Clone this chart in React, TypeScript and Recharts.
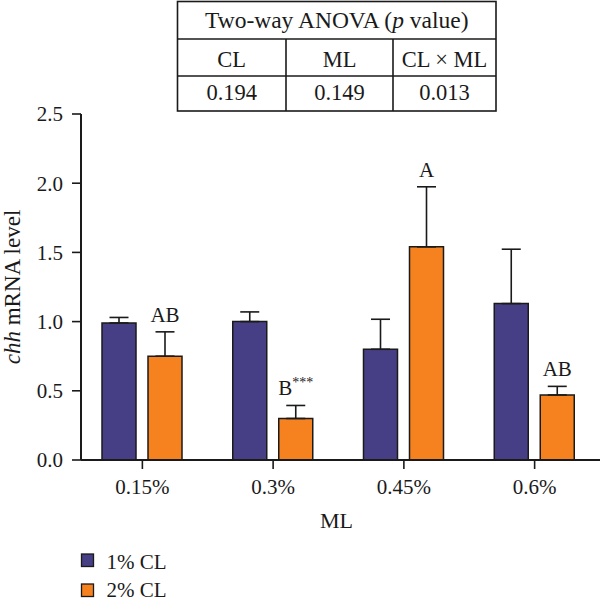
import React from "react";
import { BarChart, Bar, XAxis, YAxis, ErrorBar, LabelList, Label } from "recharts";

if (typeof document !== "undefined") {
  document.body.style.margin = "0";
}

const categories = ["0.15%", "0.3%", "0.45%", "0.6%"];
const cl1Mean = [0.99, 1.0, 0.8, 1.13];
const cl1Err = [0.04, 0.07, 0.217, 0.393];
const cl2Mean = [0.75, 0.3, 1.54, 0.47];
const cl2Err = [0.176, 0.094, 0.434, 0.062];
const cl2Letters = ["AB", "B", "A", "AB"];
const cl2Stars = ["", "***", "", ""];
const seriesNames = ["1% CL", "2% CL"];
const seriesColors = ["#473f85", "#f5821f"];
const yTicks = [0, 0.5, 1, 1.5, 2, 2.5];
const anovaHeaders = ["CL", "ML", "CL × ML"];
const anovaValues = ["0.194", "0.149", "0.013"];

const FONT = "'Liberation Serif', 'Times New Roman', serif";
const INK = "#1a1a1a";

const data = categories.map((ml, i) => ({
  ml,
  m1: cl1Mean[i],
  e1: [0, cl1Err[i]],
  m2: cl2Mean[i],
  e2: [0, cl2Err[i]],
  letter: cl2Letters[i],
}));

const LetterLabel = (props: any) => {
  const { x, y, width, height, index, value } = props;
  const mean = cl2Mean[index];
  const err = cl2Err[index];
  const bottom = y + height;
  const unit = height / mean;
  const capY = bottom - (mean + err) * unit;
  const cx = x + width / 2;
  const stars = cl2Stars[index];
  return (
    <text x={cx} y={capY - 10} textAnchor="middle" fontFamily={FONT} fontSize={21} fill={INK}>
      <tspan>{value}</tspan>
      {stars ? (
        <tspan dy={-8} fontSize={14}>
          {stars}
        </tspan>
      ) : null}
    </text>
  );
};

const YLabel = (props: any) => {
  const vb = props.viewBox || { x: 0, y: 114, width: 81, height: 346 };
  const cx = 20;
  const cy = vb.y + vb.height / 2;
  return (
    <text
      x={cx}
      y={cy}
      textAnchor="middle"
      transform={`rotate(-90, ${cx}, ${cy})`}
      fontFamily={FONT}
      fontSize={23}
      fill={INK}
    >
      <tspan fontStyle="italic">chh</tspan>
      <tspan> mRNA level</tspan>
    </text>
  );
};

const Overlay = () => {
  const left = 177.5;
  const right = 496;
  const top = 1.5;
  const r1 = 39;
  const r2 = 76;
  const bottom = 111;
  const cols = [left, 286, 393, right];
  return (
    <svg
      width={600}
      height={603}
      style={{ position: "absolute", left: 0, top: 0, pointerEvents: "none" }}
    >
      <rect x={left} y={top} width={right - left} height={bottom - top} fill="none" stroke={INK} strokeWidth={1.6} />
      <line x1={left} x2={right} y1={r1} y2={r1} stroke={INK} strokeWidth={1.6} />
      <line x1={left} x2={right} y1={r2} y2={r2} stroke={INK} strokeWidth={1.6} />
      <line x1={cols[1]} x2={cols[1]} y1={r1} y2={bottom} stroke={INK} strokeWidth={1.6} />
      <line x1={cols[2]} x2={cols[2]} y1={r1} y2={bottom} stroke={INK} strokeWidth={1.6} />
      <text x={(left + right) / 2} y={28} textAnchor="middle" fontFamily={FONT} fontSize={23.5} fill={INK}>
        <tspan>Two-way ANOVA (</tspan>
        <tspan fontStyle="italic">p</tspan>
        <tspan> value)</tspan>
      </text>
      {anovaHeaders.map((h, i) => (
        <text
          key={"h" + i}
          x={(cols[i] + cols[i + 1]) / 2}
          y={66.5}
          textAnchor="middle"
          fontFamily={FONT}
          fontSize={22.5}
          fill={INK}
        >
          {h}
        </text>
      ))}
      {anovaValues.map((v, i) => (
        <text
          key={"v" + i}
          x={(cols[i] + cols[i + 1]) / 2}
          y={100}
          textAnchor="middle"
          fontFamily={FONT}
          fontSize={22.5}
          fill={INK}
        >
          {v}
        </text>
      ))}
      {seriesNames.map((name, i) => (
        <g key={name}>
          <rect
            x={81.5}
            y={554 + i * 30}
            width={12}
            height={12.5}
            fill={seriesColors[i]}
            stroke={INK}
            strokeWidth={1.3}
          />
          <text x={106.5} y={569 + i * 28} fontFamily={FONT} fontSize={21} fill={INK}>
            {name}
          </text>
        </g>
      ))}
    </svg>
  );
};

export default function App() {
  return (
    <div style={{ position: "relative", width: 600, height: 603, background: "#fff" }}>
      <BarChart
        width={600}
        height={603}
        data={data}
        margin={{ top: 114, right: 0, left: 0, bottom: 103 }}
        barSize={34}
        barGap={12}
      >
        <XAxis
          dataKey="ml"
          height={40}
          tickSize={9}
          tickMargin={10}
          padding={{ left: -4, right: 0 }}
          axisLine={{ stroke: INK, strokeWidth: 2 }}
          tickLine={{ stroke: INK, strokeWidth: 1.6 }}
          tick={{ fill: INK, fontSize: 21, fontFamily: FONT }}
        >
          <Label
            value="ML"
            position="bottom"
            offset={12}
            dx={-4}
            style={{ fill: INK, fontSize: 22, fontFamily: FONT }}
          />
        </XAxis>
        <YAxis
          width={81}
          domain={[0, 2.5]}
          ticks={yTicks}
          interval={0}
          tickFormatter={(v: number) => v.toFixed(1)}
          tickSize={9}
          tickMargin={9}
          axisLine={{ stroke: INK, strokeWidth: 2 }}
          tickLine={{ stroke: INK, strokeWidth: 1.6 }}
          tick={{ fill: INK, fontSize: 21, fontFamily: FONT }}
        >
          <Label content={YLabel} />
        </YAxis>
        <Bar dataKey="m1" name={seriesNames[0]} fill={seriesColors[0]} stroke={INK} strokeWidth={1.5} isAnimationActive={false}>
          <ErrorBar dataKey="e1" width={9.5} stroke={INK} strokeWidth={1.6} direction="y" />
        </Bar>
        <Bar dataKey="m2" name={seriesNames[1]} fill={seriesColors[1]} stroke={INK} strokeWidth={1.5} isAnimationActive={false}>
          <ErrorBar dataKey="e2" width={9.5} stroke={INK} strokeWidth={1.6} direction="y" />
          <LabelList dataKey="letter" content={LetterLabel} />
        </Bar>
      </BarChart>
      <Overlay />
    </div>
  );
}
